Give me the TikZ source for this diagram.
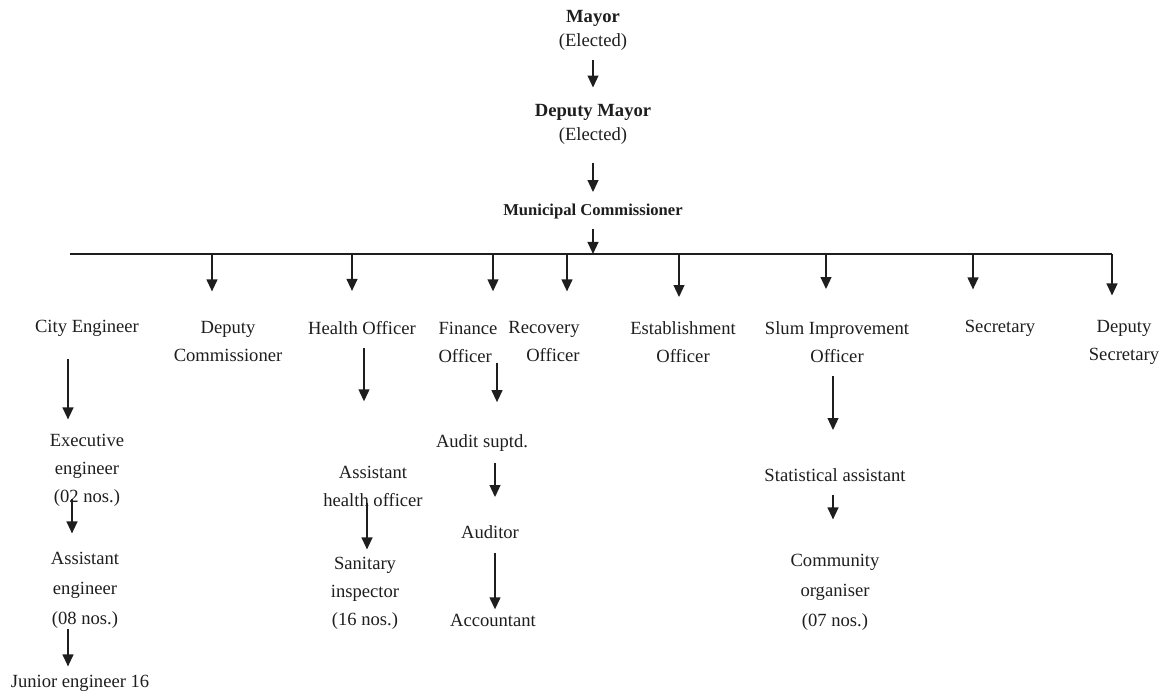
\documentclass[tikz,border=0pt]{standalone}
\usepackage{fontspec}
\setmainfont{Liberation Serif}
\usetikzlibrary{arrows.meta, positioning}
\definecolor{Encre}{RGB}{30,30,30}
\tikzset{poste/.style={align=center, inner sep=0pt, text=Encre,
  font=\fontsize{9.3}{14}\selectfont}}
\tikzset{elu/.style={poste, font=\fontsize{9.3}{12}\selectfont}}
\tikzset{chef/.style={poste, font=\fontsize{8.3}{10}\selectfont\bfseries}}
\tikzset{fl/.style={-{Triangle[length=6pt, width=5.4pt]}, draw=Encre, line width=0.85pt}}
\tikzset{bus/.style={draw=Encre, line width=0.85pt}}

\begin{document}
\begin{tikzpicture}[x=0.5pt, y=-0.5pt]
\useasboundingbox (0,0) rectangle (1166,694);
% elected heads
\node[elu] (mayor) at (593,30) {\textbf{Mayor}\\(Elected)};
\node[elu] (dmayor) at (593,124) {\textbf{Deputy Mayor}\\(Elected)};
\node[chef] (mcom) at (593,212) {Municipal Commissioner};
\draw[fl, shorten <=5pt, shorten >=8pt] (mayor.south) -- (dmayor.north);
\draw[fl, shorten <=9.5pt, shorten >=6pt] (dmayor.south) -- (mcom.north);
% bus line
\coordinate (busL) at (70,254);
\coordinate (busR) at (1112,254);
\coordinate (busC) at (593,254);
\draw[bus] (busL) -- (busR);
\draw[fl, shorten <=4.5pt] (mcom.south) -- (busC);
% second row
\node[poste] (city) at (87,328) {City Engineer};
\node[poste] (dcom) at (228,342) {Deputy\\Commissioner};
\node[poste] (health) at (362,328) {Health Officer};
\node[poste, align=left] (fin) at (468,342) {Finance\\Officer};
\node[poste, align=right] (rec) at (544,342) {Recovery\\Officer};
\node[poste] (est) at (683,342) {Establishment\\Officer};
\node[poste] (slum) at (837,342) {Slum Improvement\\Officer};
\node[poste] (sec) at (1000,328) {Secretary};
\node[poste] (dsec) at (1124,342) {Deputy\\Secretary};
\foreach \x/\n/\s in {212/dcom/15, 352/health/15, 493/fin/15, 567/rec/15,
    679/est/12, 826/slum/16, 973/sec/15, 1112/dsec/12} {
  \coordinate (t\n) at (\x,254);
  \draw[fl, shorten >=\s pt] (t\n) -- (t\n |- \n.north);
}
% engineering
\node[poste] (exe) at (87,470) {Executive\\engineer\\(02 nos.)};
\node[poste, font=\fontsize{9.3}{15}\selectfont] (aeng) at (85,590) {Assistant\\engineer\\(08 nos.)};
\node[poste] (jeng) at (80,683) {Junior engineer 16};
\draw[fl, shorten <=11pt, shorten >=7pt] (city.south -| 68,0) -- (exe.north -| 68,0);
\draw[fl, shorten <=-4pt, shorten >=9pt] (exe.south -| 72,0) -- (aeng.north -| 72,0);
\draw[fl, shorten <=0pt, shorten >=4pt] (aeng.south -| 68,0) -- (jeng.north -| 68,0);
% health
\node[poste] (ahealth) at (373,486) {Assistant\\health officer};
\node[poste] (sanit) at (365,593) {Sanitary\\inspector\\(16 nos.)};
\draw[fl, shorten <=6.5pt, shorten >=32pt] (health.south -| 364,0) -- (ahealth.north -| 364,0);
\draw[fl, shorten <=-2pt, shorten >=3.5pt] (ahealth.south -| 367,0) -- (sanit.north -| 367,0);
% finance
\node[poste] (audit) at (482,443) {Audit suptd.};
\node[poste] (auditor) at (490,532) {Auditor};
\node[poste] (acct) at (493,620) {Accountant};
\draw[fl, shorten <=0pt, shorten >=16pt] (fin.south -| 497,0) -- (audit.north -| 497,0);
\draw[fl, shorten <=5.5pt, shorten >=14pt] (audit.south -| 495,0) -- (auditor.north -| 495,0);
\draw[fl, shorten <=7pt, shorten >=2pt] (auditor.south -| 495,0) -- (acct.north -| 495,0);
% slum improvement
\node[poste] (stat) at (835,475) {Statistical assistant};
\node[poste, font=\fontsize{9.3}{15}\selectfont] (comm) at (835,592) {Community\\organiser\\(07 nos.)};
\draw[fl, shorten <=6.5pt, shorten >=19pt] (slum.south -| 833,0) -- (stat.north -| 833,0);
\draw[fl, shorten <=6.5pt, shorten >=17pt] (stat.south -| 833,0) -- (comm.north -| 833,0);
\end{tikzpicture}
\end{document}
